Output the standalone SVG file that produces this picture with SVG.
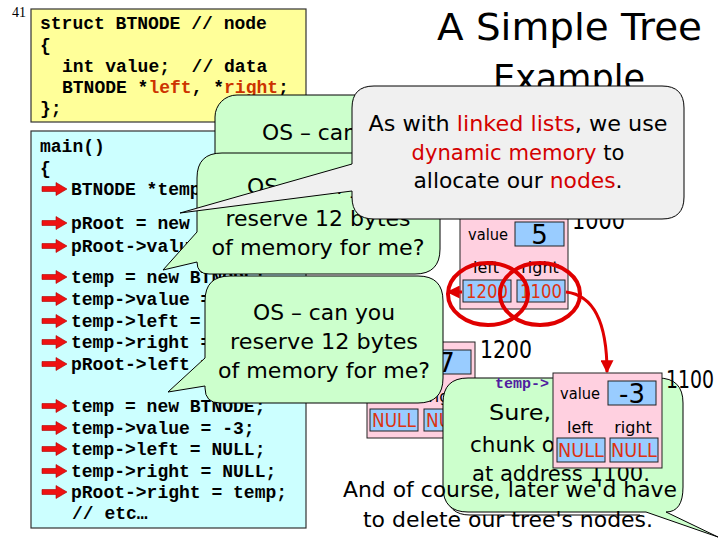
<svg xmlns="http://www.w3.org/2000/svg" width="720" height="540" viewBox="0 0 720 540">
<defs>
<style>
.code{font-family:"Liberation Mono","Courier New",monospace;font-weight:bold;font-size:18px;fill:#000;white-space:pre}
.hl{fill:#cc3300}
.cs{font-family:"DejaVu Sans",sans-serif;font-size:22px;fill:#000}
.mid{text-anchor:middle}
.red{fill:#d40000}
.box{fill:#ffff99;stroke:#333;stroke-width:1.2}
.cyan{fill:#ccffff;stroke:#333;stroke-width:1.2}
.pink{fill:#ffd0e0;stroke:#222;stroke-width:1}
.blue{fill:#99ccff;stroke:#222;stroke-width:1}
.lbl{font-family:"DejaVu Sans",sans-serif;font-size:16px;fill:#000}
.ptr{font-family:"DejaVu Sans",sans-serif;font-size:19px;fill:#dd3311;text-anchor:middle}
.num{font-family:"DejaVu Sans",sans-serif;font-size:26px;fill:#000;text-anchor:middle}
.addr{font-family:"DejaVu Sans",sans-serif;font-size:25px;fill:#000}
.green{fill:#ccffcc;stroke:#000;stroke-width:1}
.gray{fill:#f0f0f0;stroke:#000;stroke-width:1}
.link{fill:none;stroke:#e00000;stroke-width:3}
.ring{fill:none;stroke:#e00000;stroke-width:4}
</style>
<path id="ra" d="M0,-2.5 H14 V-6.5 L25,0 L14,6.5 V2.5 H0 Z" fill="#ee1111" stroke="#b00000" stroke-width="0.6"/>
<marker id="ah" viewBox="0 0 10 10" markerWidth="13" markerHeight="13" refX="9" refY="5" orient="auto" markerUnits="userSpaceOnUse">
<path d="M0,0 L10,5 L0,10 Z" fill="#e00000"/>
</marker>
</defs>
<rect width="720" height="540" fill="#fff"/>
<text x="12" y="17" font-family="Liberation Serif,serif" font-size="14" fill="#000">41</text>

<g id="struct">
<rect class="box" x="31" y="9" width="275" height="113"/>
<text class="code" x="40" y="29">struct BTNODE // node</text>
<text class="code" x="40" y="51">{</text>
<text class="code" x="62" y="72">int value;  // data</text>
<text class="code" x="62" y="93">BTNODE *<tspan class="hl">left</tspan>, *<tspan class="hl">right</tspan>;</text>
<text class="code" x="40" y="114">};</text>
</g>

<g id="main">
<rect class="cyan" x="31" y="131" width="275" height="397"/>
<text class="code" x="40" y="152">main()</text>
<text class="code" x="40" y="174">{</text>
<text class="code" x="71" y="195">BTNODE *temp, *pRoot;</text>
<text class="code" x="71" y="229">pRoot = new BTNODE;</text>
<text class="code" x="71" y="252">pRoot-&gt;value = 5;</text>
<text class="code" x="71" y="283">temp = new BTNODE;</text>
<text class="code" x="71" y="305">temp-&gt;value = 7;</text>
<text class="code" x="71" y="327">temp-&gt;left = NULL;</text>
<text class="code" x="71" y="348">temp-&gt;right = NULL;</text>
<text class="code" x="71" y="370">pRoot-&gt;left = temp;</text>
<text class="code" x="71" y="412">temp = new BTNODE;</text>
<text class="code" x="71" y="434">temp-&gt;value = -3;</text>
<text class="code" x="71" y="455">temp-&gt;left = NULL;</text>
<text class="code" x="71" y="477">temp-&gt;right = NULL;</text>
<text class="code" x="71" y="498">pRoot-&gt;right = temp;</text>
<text class="code" x="72" y="519">// etc…</text>
<use href="#ra" x="42" y="189"/>
<use href="#ra" x="42" y="223"/>
<use href="#ra" x="42" y="246"/>
<use href="#ra" x="42" y="277"/>
<use href="#ra" x="42" y="299"/>
<use href="#ra" x="42" y="321"/>
<use href="#ra" x="42" y="342"/>
<use href="#ra" x="42" y="364"/>
<use href="#ra" x="42" y="406"/>
<use href="#ra" x="42" y="428"/>
<use href="#ra" x="42" y="449"/>
<use href="#ra" x="42" y="471"/>
<use href="#ra" x="42" y="492"/>
</g>

<g id="title">
<text x="437" y="40" font-family="DejaVu Sans,sans-serif" font-size="38" textLength="265" lengthAdjust="spacingAndGlyphs">A Simple Tree</text>
<text x="493" y="91" font-family="DejaVu Sans,sans-serif" font-size="38" textLength="152" lengthAdjust="spacingAndGlyphs">Example</text>
</g>

<g id="node1000">
<rect class="pink" x="460" y="213" width="108" height="96"/>
<text class="lbl" x="468" y="240" textLength="40" lengthAdjust="spacingAndGlyphs">value</text>
<rect class="blue" x="515" y="222" width="49" height="24"/>
<text class="num" x="539.5" y="244">5</text>
<text class="lbl mid" x="486" y="273">left</text>
<text class="lbl mid" x="540" y="273">right</text>
<rect class="blue" x="463" y="280" width="48" height="22"/>
<text class="ptr" x="487" y="298" textLength="42" lengthAdjust="spacingAndGlyphs">1200</text>
<rect class="blue" x="517" y="280" width="48" height="22"/>
<text class="ptr" x="541" y="298" textLength="42" lengthAdjust="spacingAndGlyphs">1100</text>
<text class="addr" x="572" y="229" textLength="53" lengthAdjust="spacingAndGlyphs">1000</text>
</g>

<g id="node1200">
<rect class="pink" x="367" y="342" width="108" height="96"/>
<text class="lbl" x="375" y="368">value</text>
<rect class="blue" x="422" y="350" width="49" height="24"/>
<text class="num" x="446.5" y="372">7</text>
<text class="lbl mid" x="393" y="402">left</text>
<text class="lbl mid" x="447" y="402">right</text>
<rect class="blue" x="370" y="409" width="48" height="22"/>
<text class="ptr" x="394" y="427" textLength="44" lengthAdjust="spacingAndGlyphs">NULL</text>
<rect class="blue" x="424" y="409" width="48" height="22"/>
<text class="ptr" x="448" y="427" textLength="44" lengthAdjust="spacingAndGlyphs">NULL</text>
<text class="addr" x="480" y="358" textLength="52" lengthAdjust="spacingAndGlyphs">1200</text>
</g>

<g id="connectors">
<path class="link" d="M462,292 H448" marker-end="url(#ah)"/>
<path class="link" d="M566,292 C592,295 607,320 607,372" marker-end="url(#ah)"/>
<ellipse class="ring" cx="488" cy="294" rx="40" ry="31"/>
<ellipse class="ring" cx="540" cy="294" rx="40" ry="31"/>
</g>

<g id="callout1">
<rect class="green" x="215" y="95" width="232" height="127" rx="22"/>
<text class="cs mid" x="333" y="140" textLength="142" lengthAdjust="spacingAndGlyphs">OS – can you</text>
</g>

<g id="callout2">
<path class="green" d="M222,153 H415 Q440,153 440,178 V249 Q440,274 415,274 H209 Q197,274 197,262 L163,270 L197,232 V178 Q197,153 222,153 Z"/>
<text class="cs mid" x="318" y="194" textLength="142" lengthAdjust="spacingAndGlyphs">OS – can you</text>
<text class="cs mid" x="318" y="226" textLength="185" lengthAdjust="spacingAndGlyphs">reserve 12 bytes</text>
<text class="cs mid" x="318" y="255" textLength="213" lengthAdjust="spacingAndGlyphs">of memory for me?</text>
</g>

<g id="callout-gray">
<path class="gray" d="M374,86 H662 Q684,86 684,108 V197 Q684,219 662,219 H374 Q352,219 352,197 V191 L180,213 L352,164 V108 Q352,86 374,86 Z"/>
<text class="cs mid" x="518" y="131" textLength="299" lengthAdjust="spacingAndGlyphs">As with <tspan class="red">linked lists</tspan>, we use</text>
<text class="cs mid" x="518" y="160" textLength="213" lengthAdjust="spacingAndGlyphs"><tspan class="red">dynamic memory</tspan> to</text>
<text class="cs mid" x="518" y="188" textLength="209" lengthAdjust="spacingAndGlyphs">allocate our <tspan class="red">nodes</tspan>.</text>
</g>

<g id="callout3">
<path class="green" d="M230,276 H418 Q443,276 443,301 V378 Q443,403 418,403 H220 Q205,403 205,388 V386 L168,392 L205,358 V301 Q205,276 230,276 Z"/>
<text class="cs mid" x="324" y="320" textLength="142" lengthAdjust="spacingAndGlyphs">OS – can you</text>
<text class="cs mid" x="324" y="349" textLength="188" lengthAdjust="spacingAndGlyphs">reserve 12 bytes</text>
<text class="cs mid" x="324" y="378" textLength="212" lengthAdjust="spacingAndGlyphs">of memory for me?</text>
</g>

<g id="callout4">
<path fill="none" stroke="#000" stroke-width="1" d="M446,493 Q448,515 470,515 H640"/>
<path class="green" d="M468,378 H658 Q683,378 683,403 V487 Q683,512 666,512 L718,537 L646,512 H468 Q443,512 443,487 V403 Q443,378 468,378 Z"/>
<text class="cs" x="489" y="420" textLength="62" lengthAdjust="spacingAndGlyphs">Sure,</text>
<text class="cs" x="470" y="452" textLength="85" lengthAdjust="spacingAndGlyphs">chunk o</text>
<text class="cs" x="472" y="481" textLength="178" lengthAdjust="spacingAndGlyphs">at address 1100.</text>
</g>

<g id="node1100">
<rect class="pink" x="553" y="373" width="109" height="95"/>
<text class="lbl mid" x="580" y="399" textLength="40" lengthAdjust="spacingAndGlyphs">value</text>
<rect class="blue" x="608" y="381" width="48" height="24"/>
<text class="num" x="632" y="403">-3</text>
<text class="lbl mid" x="580" y="433">left</text>
<text class="lbl mid" x="633" y="433">right</text>
<rect class="blue" x="557" y="438" width="48" height="24"/>
<text class="ptr" x="581" y="457" textLength="46" lengthAdjust="spacingAndGlyphs">NULL</text>
<rect class="blue" x="610" y="438" width="48" height="24"/>
<text class="ptr" x="634" y="457" textLength="46" lengthAdjust="spacingAndGlyphs">NULL</text>
<text class="addr" x="666" y="388" textLength="48" lengthAdjust="spacingAndGlyphs">1100</text>
<text x="495" y="388" font-family="Liberation Mono,monospace" font-weight="bold" font-size="15" fill="#5020a0">temp-&gt;</text>
</g>

<g id="note">
<text class="cs mid" x="510" y="497" textLength="334" lengthAdjust="spacingAndGlyphs">And of course, later we'd have</text>
<text class="cs mid" x="508" y="527" textLength="290" lengthAdjust="spacingAndGlyphs">to delete our tree's nodes.</text>
</g>
</svg>
